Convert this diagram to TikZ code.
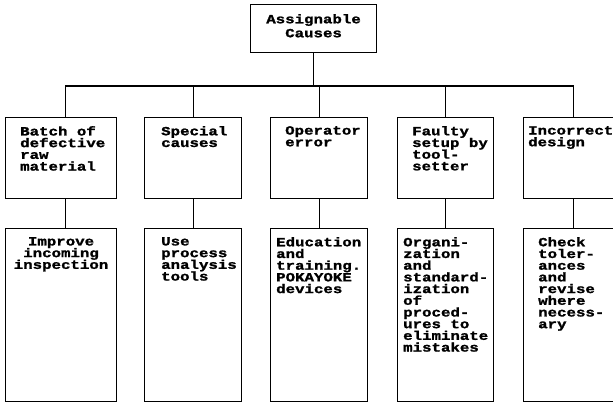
\documentclass[tikz,border=0pt]{standalone}
\usepackage{fontspec}
\newfontfamily\typefont[FakeStretch=1.26,FakeBold=1.5]{Liberation Mono}
\newcommand\wordfont[1]{\typefont\bfseries\fontsize{12.5}{#1}\selectfont\setlength{\lineskiplimit}{-20pt}\relax}
\tikzset{
  box/.style={draw, line width=1.1pt, inner sep=0pt, anchor=north west},
  link/.style={line width=1.1pt},
  words/.style={inner sep=0pt, anchor=north west, align=left, font=\wordfont{11.7}}
}
\begin{document}
\begin{tikzpicture}[x=1pt,y=-1pt]
  \useasboundingbox (0,0) rectangle (613,403);
  \clip (0,0) rectangle (613,403);
  % top box
  \node[box, minimum width=126pt, minimum height=48pt] (top) at (250,4) {};
  \node[words, anchor=north, align=center, font=\wordfont{14}] (toptext) at ([yshift=-10pt]top.north) {Assignable\\Causes};

  % causes
  \node[box, minimum width=111pt, minimum height=81pt] (u1) at (5,117) {};
  \node[box, minimum width=97pt, minimum height=81pt] (u2) at (144,117) {};
  \node[box, minimum width=97pt, minimum height=81pt] (u3) at (270,117) {};
  \node[box, minimum width=96pt, minimum height=81pt] (u4) at (397,117) {};
  \node[box, minimum width=100pt, minimum height=81pt] (u5) at (523,117) {};
  \node[words] (u1text) at ([xshift=15pt, yshift=-9pt]u1.north west) {Batch of\\defective\\raw\\material};
  \node[words] (u2text) at ([xshift=17pt, yshift=-9pt]u2.north west) {Special\\causes};
  \node[words] (u3text) at ([xshift=15pt, yshift=-9pt]u3.north west) {Operator\\error};
  \node[words] (u4text) at ([xshift=15pt, yshift=-9pt]u4.north west) {Faulty\\setup by\\tool-\\setter};
  \node[words] (u5text) at ([xshift=5pt, yshift=-9pt]u5.north west) {Incorrect\\design};

  % remedies
  \node[box, minimum width=111pt, minimum height=173pt] (l1) at (5,228) {};
  \node[box, minimum width=97pt, minimum height=173pt] (l2) at (144,228) {};
  \node[box, minimum width=97pt, minimum height=173pt] (l3) at (270,228) {};
  \node[box, minimum width=96pt, minimum height=173pt] (l4) at (397,228) {};
  \node[box, minimum width=100pt, minimum height=173pt] (l5) at (523,228) {};
  \node[words, anchor=north, align=center] (l1text) at ([yshift=-9pt]l1.north) {Improve\\incoming\\inspection};
  \node[words] (l2text) at ([xshift=17pt, yshift=-9pt]l2.north west) {Use\\process\\analysis\\tools};
  \node[words] (l3text) at ([xshift=6pt, yshift=-9pt]l3.north west) {Education\\and\\training.\\POKAYOKE\\devices};
  \node[words] (l4text) at ([xshift=6pt, yshift=-9pt]l4.north west) {Organi-\\zation\\and\\standard-\\ization\\of\\proced-\\ures to\\eliminate\\mistakes};
  \node[words] (l5text) at ([xshift=15pt, yshift=-9pt]l5.north west) {Check\\toler-\\ances\\and\\revise\\where\\necess-\\ary};

  % connectors
  \coordinate (bar) at (0,86);
  \draw[link] (top) -- (top |- bar);
  \draw[link] ([xshift=4.5pt]u1.north) |- (bar -| u5.north) -- (u5.north);
  \draw[link] ([xshift=4.5pt]u1.south) -- ([xshift=4.5pt]l1.north);
  \foreach \n in {2,3,4}
    \draw[link] (u\n.north) -- (u\n.north |- bar);
  \foreach \n in {2,...,5}
    \draw[link] (u\n) -- (l\n);
\end{tikzpicture}
\end{document}
